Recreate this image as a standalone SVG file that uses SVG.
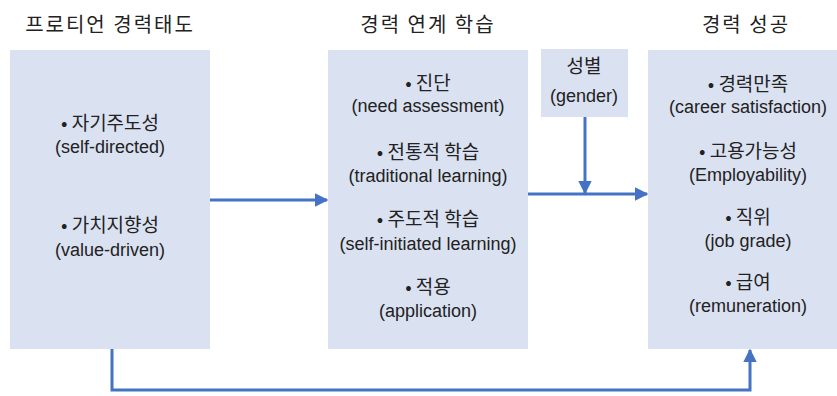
<svg xmlns="http://www.w3.org/2000/svg" width="837" height="396" viewBox="0 0 837 396">
<defs>
<style>
.box{fill:#DAE1F1;}
.t{font-family:"Noto Sans CJK KR",sans-serif;fill:#222;text-anchor:middle;}
.ko{font-size:19px;}
.en{font-family:"Liberation Sans","Noto Sans CJK KR",sans-serif;font-size:18px;}
.title{font-size:20px;letter-spacing:2px;}
.c{fill:none;stroke:#4472C4;stroke-width:3;}
</style>
<marker id="ah" viewBox="0 0 10 10" refX="9" refY="5" markerWidth="4.5" markerHeight="4.5" orient="auto" markerUnits="strokeWidth">
<path d="M0,0 L10,5 L0,10 z" fill="#4472C4"/>
</marker>
</defs>
<rect width="837" height="396" fill="#fff"/>
<g id="titles">
<text class="t title" x="110" y="32">프로티언 경력태도</text>
<text class="t title" x="428" y="32">경력 연계 학습</text>
<text class="t title" x="746" y="32">경력 성공</text>
</g>
<g id="node-attitude">
<rect class="box" x="10" y="50" width="200" height="299"/>
<text class="t ko" x="110" y="130">• 자기주도성</text>
<text class="t en" x="110" y="153">(self-directed)</text>
<text class="t ko" x="110" y="232">• 가치지향성</text>
<text class="t en" x="110" y="256">(value-driven)</text>
</g>
<g id="node-learning">
<rect class="box" x="328" y="50" width="200" height="299"/>
<text class="t ko" x="428" y="90">• 진단</text>
<text class="t en" x="428" y="112">(need assessment)</text>
<text class="t ko" x="428" y="159">• 전통적 학습</text>
<text class="t en" x="428" y="182">(traditional learning)</text>
<text class="t ko" x="428" y="226">• 주도적 학습</text>
<text class="t en" x="428" y="250">(self-initiated learning)</text>
<text class="t ko" x="428" y="294">• 적용</text>
<text class="t en" x="428" y="317">(application)</text>
</g>
<g id="node-gender">
<rect class="box" x="541" y="49" width="87" height="68"/>
<text class="t ko" x="584" y="73">성별</text>
<text class="t en" x="584" y="102">(gender)</text>
</g>
<g id="node-success">
<rect class="box" x="648" y="50" width="189" height="299"/>
<text class="t ko" x="748" y="91">• 경력만족</text>
<text class="t en" x="748" y="113">(career satisfaction)</text>
<text class="t ko" x="748" y="158">• 고용가능성</text>
<text class="t en" x="748" y="181">(Employability)</text>
<text class="t ko" x="748" y="224">• 직위</text>
<text class="t en" x="748" y="247">(job grade)</text>
<text class="t ko" x="748" y="289">• 급여</text>
<text class="t en" x="748" y="312">(remuneration)</text>
</g>
<g id="connectors">
<line class="c" x1="210" y1="200" x2="327" y2="200" marker-end="url(#ah)"/>
<line class="c" x1="528" y1="194" x2="647" y2="194" marker-end="url(#ah)"/>
<line class="c" x1="585" y1="117" x2="585" y2="193" marker-end="url(#ah)"/>
<polyline class="c" points="112,349 112,390 750,390 750,350" marker-end="url(#ah)"/>
</g>
</svg>
